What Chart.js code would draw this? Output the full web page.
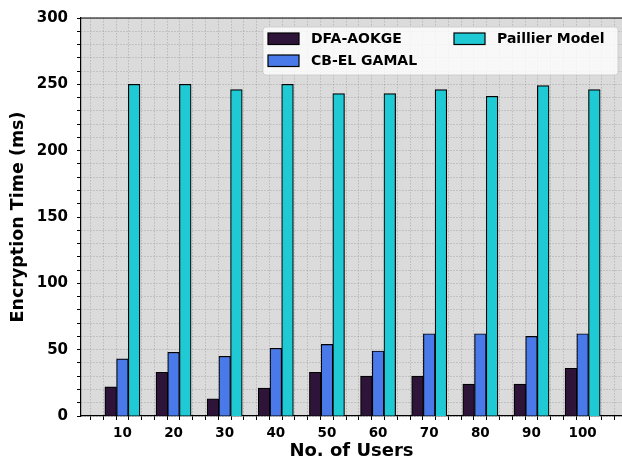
<!DOCTYPE html>
<html>
<head>
<meta charset="utf-8">
<script src="https://cdn.jsdelivr.net/npm/chart.js@4.4.1/dist/chart.umd.min.js"></script>
<style>
  html, body { margin: 0; padding: 0; background: #ffffff; }
  canvas { display: block; }
</style>
</head>
<body>
<canvas id="c" width="622" height="463"></canvas>
<script>
// Number of users per test run
const users = [10, 20, 30, 40, 50, 60, 70, 80, 90, 100];

// Encryption time (ms) for each scheme
const dfaAokge  = [22, 33, 13, 21, 33, 30, 30, 24, 24, 36];
const cbElGamal = [43, 48, 45, 51, 54, 49, 62, 62, 60, 62];
const paillier  = [250, 250, 246, 250, 243, 243, 246, 241, 249, 246];

const seriesNames = ['DFA-AOKGE', 'CB-EL GAMAL', 'Paillier Model'];
const seriesColors = ['#2e1439', '#4a7ae9', '#1fcad5'];

// y ticks: minor every 10, labelled every 50
const yTickValues = [];
for (let v = 0; v <= 300; v += 10) yTickValues.push(v);
// x ticks: minor every 2.5 users, labelled on user counts
const xTickValues = [];
for (let i = 1; i <= 43; i++) xTickValues.push(i * 2.5);

const toPoints = vals => vals.map((v, i) => ({ x: users[i], y: v }));

const FONT = "'DejaVu Sans', sans-serif";

// Plot background and the top spine
const framePlugin = {
  id: 'frame',
  beforeDraw(chart) {
    const { ctx, chartArea: a } = chart;
    ctx.save();
    ctx.fillStyle = '#dbdbdb';
    ctx.fillRect(a.left, a.top, a.right - a.left, a.bottom - a.top);
    ctx.restore();
  },
  afterDraw(chart) {
    const { ctx, chartArea: a } = chart;
    ctx.save();
    ctx.strokeStyle = '#000';
    ctx.lineWidth = 1.2;
    ctx.beginPath();
    ctx.moveTo(a.left, a.top);
    ctx.lineTo(a.right, a.top);
    ctx.stroke();
    ctx.restore();
  }
};

// Two-column legend box in the upper right of the plot
const legendPlugin = {
  id: 'boxLegend',
  afterDatasetsDraw(chart) {
    const { ctx, chartArea: a } = chart;
    const bx = a.left + 182, by = a.top + 9, bw = 355, bh = 48;
    ctx.save();
    ctx.fillStyle = 'rgba(255,255,255,0.8)';
    ctx.strokeStyle = 'rgba(205,205,205,0.9)';
    ctx.lineWidth = 1;
    ctx.beginPath();
    ctx.roundRect(bx, by, bw, bh, 3);
    ctx.fill();
    ctx.stroke();
    const slots = [
      { x: bx + 5,   y: by + 6 },
      { x: bx + 5,   y: by + 28 },
      { x: bx + 191, y: by + 6 }
    ];
    ctx.font = "bold 14px " + FONT;
    ctx.textBaseline = 'middle';
    ctx.textAlign = 'left';
    chart.data.datasets.forEach((ds, i) => {
      const s = slots[i];
      ctx.fillStyle = ds.backgroundColor;
      ctx.fillRect(s.x, s.y, 31, 11.5);
      ctx.strokeStyle = '#000';
      ctx.lineWidth = 1.2;
      ctx.strokeRect(s.x, s.y, 31, 11.5);
      ctx.fillStyle = '#000';
      ctx.fillText(ds.label, s.x + 43, s.y + 6.5);
    });
    ctx.restore();
  }
};

const gridCommon = {
  color: 'rgba(150,150,150,0.6)',
  lineWidth: 0.8,
  tickColor: '#000',
  tickLength: 4,
  tickWidth: 1,
  tickBorderDash: []
};

new Chart(document.getElementById('c'), {
  type: 'bar',
  data: {
    datasets: [dfaAokge, cbElGamal, paillier].map((vals, i) => ({
      label: seriesNames[i],
      data: toPoints(vals),
      backgroundColor: seriesColors[i],
      borderColor: '#000',
      borderWidth: 1.2,
      barThickness: 11.7
    }))
  },
  options: {
    responsive: false,
    animation: false,
    devicePixelRatio: 1,
    layout: { padding: { top: 16, right: 0, left: 0, bottom: 0 } },
    plugins: {
      legend: { display: false },
      tooltip: { enabled: false }
    },
    scales: {
      x: {
        type: 'linear',
        min: 1.9,
        max: 107.7,
        offset: false,
        afterBuildTicks: scale => { scale.ticks = xTickValues.map(v => ({ value: v })); },
        afterFit: scale => {
          scale.height = 47;
          scale.paddingLeft = 0;
          scale.paddingRight = 0;
        },
        grid: gridCommon,
        border: { display: true, color: '#000', width: 1.2, dash: [1.5, 1.5] },
        ticks: {
          autoSkip: false,
          maxRotation: 0,
          padding: 5,
          color: '#000',
          font: { family: FONT, size: 13.5, weight: 'bold' },
          callback: v => users.includes(v) ? String(v) : ''
        },
        title: {
          display: true,
          text: 'No. of Users',
          color: '#000',
          font: { family: FONT, size: 18, weight: 'bold' },
          padding: { top: 0, bottom: 1 }
        }
      },
      y: {
        min: 0,
        max: 300,
        afterBuildTicks: scale => { scale.ticks = yTickValues.map(v => ({ value: v })); },
        afterFit: scale => { scale.width = 81; },
        grid: gridCommon,
        border: { display: true, color: '#000', width: 1.2, dash: [1.5, 1.5] },
        ticks: {
          autoSkip: false,
          padding: 9,
          color: '#000',
          font: { family: FONT, size: 15, weight: 'bold' },
          callback: v => (v % 50 === 0 ? String(v) : '')
        },
        title: {
          display: true,
          text: 'Encryption Time (ms)',
          color: '#000',
          font: { family: FONT, size: 17.5, weight: 'bold' },
          padding: { top: 8, bottom: 0 }
        }
      }
    }
  },
  plugins: [framePlugin, legendPlugin]
});
</script>
</body>
</html>
